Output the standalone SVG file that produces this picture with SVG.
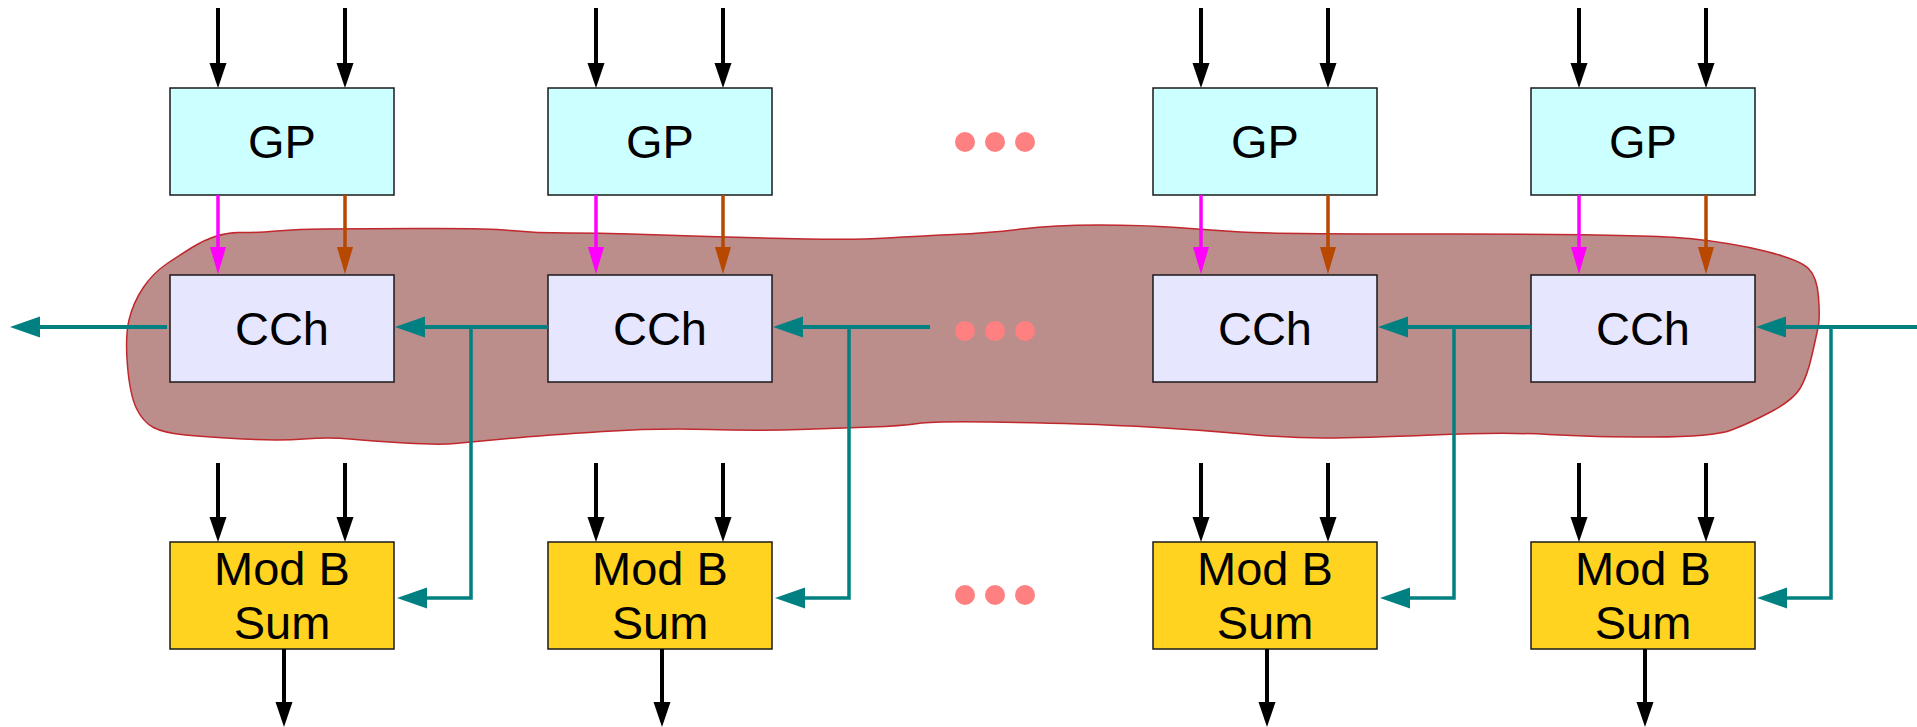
<svg xmlns="http://www.w3.org/2000/svg" width="1917" height="727" viewBox="0 0 1917 727">
<style>
.box{stroke:#1a1a1a;stroke-width:1.5}
.gp{fill:#ccffff}
.cch{fill:#e6e6ff}
.mod{fill:#ffd320}
.lbl{font-family:"Liberation Sans",Arial,sans-serif;font-size:47px;fill:#000;text-anchor:middle}
.blk{stroke:#000;stroke-width:4;fill:none;marker-end:url(#hb)}
.pnk{stroke:#ff00ff;stroke-width:3.5;fill:none;marker-end:url(#hp)}
.org{stroke:#b84700;stroke-width:3.5;fill:none;marker-end:url(#ho)}
.tl{stroke:#008080;stroke-width:4;fill:none;marker-end:url(#ht)}
.tl2{stroke:#008080;stroke-width:3.5;fill:none;marker-end:url(#ht)}
.dot{fill:#ff8080}
</style>
<defs>
<marker id="hb" markerUnits="userSpaceOnUse" markerWidth="30" markerHeight="24" refX="0" refY="12" orient="auto" overflow="visible"><path d="M0,3.5 L25,12 L0,20.5 z" fill="#000"/></marker>
<marker id="hp" markerUnits="userSpaceOnUse" markerWidth="30" markerHeight="24" refX="0" refY="12" orient="auto" overflow="visible"><path d="M0,4 L27,12 L0,20 z" fill="#ff00ff"/></marker>
<marker id="ho" markerUnits="userSpaceOnUse" markerWidth="30" markerHeight="24" refX="0" refY="12" orient="auto" overflow="visible"><path d="M0,4 L27,12 L0,20 z" fill="#b84700"/></marker>
<marker id="ht" markerUnits="userSpaceOnUse" markerWidth="32" markerHeight="24" refX="0" refY="12" orient="auto" overflow="visible"><path d="M0,1.5 L30,12 L0,22.5 z" fill="#008080"/></marker>
</defs>
<rect width="1917" height="727" fill="#ffffff"/>
<g id="cloud">
<path d="M216.5,236 Q229,232 241,232.5 Q253,233 276.5,231 Q300,229 323,229 Q346,229 416,228.5 Q486,228 511,230.5 Q536,233 568,233 Q600,233 630,234 Q660,235 708.5,236.5 Q757,238 807,239 Q857,240 887.5,238 Q918,236 953.5,234.5 Q989,233 1021.5,229 Q1054,225 1098.5,225 Q1143,225 1176.5,227.5 Q1210,230 1240.5,232 Q1271,234 1458.5,234 Q1646,234 1689.5,238.5 Q1733,243 1766.5,251.5 Q1800,260 1808.5,268.5 Q1817,277 1818.5,297 Q1820,317 1818.5,325 Q1817,333 1812,355 Q1807,377 1800,388.5 Q1793,400 1771.5,411.5 Q1750,423 1731.5,430 Q1713,437 1653,437 Q1593,437 1548.5,434.5 Q1504,432 1432.5,435 Q1361,438 1325,438 Q1289,438 1244.5,434 Q1200,430 1157,427.5 Q1114,425 1078.5,424 Q1043,423 989.5,422 Q936,421 918,423.5 Q900,426 871.5,427 Q843,428 800,429.5 Q757,431 708.5,429.5 Q660,428 603,431.5 Q546,435 508.5,438.5 Q471,442 455,443.5 Q439,445 405,443 Q371,441 350,439 Q329,437 304,439 Q279,441 243,439 Q207,437 185.5,435 Q164,433 153.5,427.5 Q143,422 136.5,408.5 Q130,395 127.5,366 Q125,337 129,320 Q133,303 143,288 Q153,273 166.5,264 Q180,255 192,247.5 Q204,240 216.5,236 Z" fill="#bb8d8b" stroke="#c0282d" stroke-width="1.5"/>
</g>
<g id="gp1"><rect class="box gp" x="170" y="88" width="224" height="107"/><text class="lbl" x="282" y="158">GP</text></g>
<g id="gp2"><rect class="box gp" x="548" y="88" width="224" height="107"/><text class="lbl" x="660" y="158">GP</text></g>
<g id="gp3"><rect class="box gp" x="1153" y="88" width="224" height="107"/><text class="lbl" x="1265" y="158">GP</text></g>
<g id="gp4"><rect class="box gp" x="1531" y="88" width="224" height="107"/><text class="lbl" x="1643" y="158">GP</text></g>
<g id="cch1"><rect class="box cch" x="170" y="275" width="224" height="107"/><text class="lbl" x="282" y="345">CCh</text></g>
<g id="cch2"><rect class="box cch" x="548" y="275" width="224" height="107"/><text class="lbl" x="660" y="345">CCh</text></g>
<g id="cch3"><rect class="box cch" x="1153" y="275" width="224" height="107"/><text class="lbl" x="1265" y="345">CCh</text></g>
<g id="cch4"><rect class="box cch" x="1531" y="275" width="224" height="107"/><text class="lbl" x="1643" y="345">CCh</text></g>
<g id="mod1"><rect class="box mod" x="170" y="542" width="224" height="107"/><text class="lbl" x="282" y="585">Mod B</text><text class="lbl" x="282" y="639">Sum</text></g>
<g id="mod2"><rect class="box mod" x="548" y="542" width="224" height="107"/><text class="lbl" x="660" y="585">Mod B</text><text class="lbl" x="660" y="639">Sum</text></g>
<g id="mod3"><rect class="box mod" x="1153" y="542" width="224" height="107"/><text class="lbl" x="1265" y="585">Mod B</text><text class="lbl" x="1265" y="639">Sum</text></g>
<g id="mod4"><rect class="box mod" x="1531" y="542" width="224" height="107"/><text class="lbl" x="1643" y="585">Mod B</text><text class="lbl" x="1643" y="639">Sum</text></g>
<g id="ellipsis">
<circle class="dot" cx="965" cy="142" r="10"/><circle class="dot" cx="995" cy="142" r="10"/><circle class="dot" cx="1025" cy="142" r="10"/>
<circle class="dot" cx="965" cy="331" r="10"/><circle class="dot" cx="995" cy="331" r="10"/><circle class="dot" cx="1025" cy="331" r="10"/>
<circle class="dot" cx="965" cy="595" r="10"/><circle class="dot" cx="995" cy="595" r="10"/><circle class="dot" cx="1025" cy="595" r="10"/>
</g>
<g id="connectors">
<path class="blk" d="M218,8 V63"/><path class="blk" d="M345,8 V63"/>
<path class="blk" d="M596,8 V63"/><path class="blk" d="M723,8 V63"/>
<path class="blk" d="M1201,8 V63"/><path class="blk" d="M1328,8 V63"/>
<path class="blk" d="M1579,8 V63"/><path class="blk" d="M1706,8 V63"/>
<path class="pnk" d="M218,195 V247"/><path class="org" d="M345,195 V247"/>
<path class="pnk" d="M596,195 V247"/><path class="org" d="M723,195 V247"/>
<path class="pnk" d="M1201,195 V247"/><path class="org" d="M1328,195 V247"/>
<path class="pnk" d="M1579,195 V247"/><path class="org" d="M1706,195 V247"/>
<path class="blk" d="M218,463 V517"/><path class="blk" d="M345,463 V517"/>
<path class="blk" d="M596,463 V517"/><path class="blk" d="M723,463 V517"/>
<path class="blk" d="M1201,463 V517"/><path class="blk" d="M1328,463 V517"/>
<path class="blk" d="M1579,463 V517"/><path class="blk" d="M1706,463 V517"/>
<path class="blk" d="M284,649 V702"/><path class="blk" d="M662,649 V702"/>
<path class="blk" d="M1267,649 V702"/><path class="blk" d="M1645,649 V702"/>
<path class="tl" d="M167,327 H40"/>
<path class="tl" d="M548,327 H425"/>
<path class="tl" d="M930,327 H803"/>
<path class="tl" d="M1531,327 H1408"/>
<path class="tl" d="M1917,327 H1786"/>
<path class="tl2" d="M471,327 V598 H427"/>
<path class="tl2" d="M849,327 V598 H805"/>
<path class="tl2" d="M1454,327 V598 H1410"/>
<path class="tl2" d="M1831,327 V598 H1787"/>
</g>
</svg>
